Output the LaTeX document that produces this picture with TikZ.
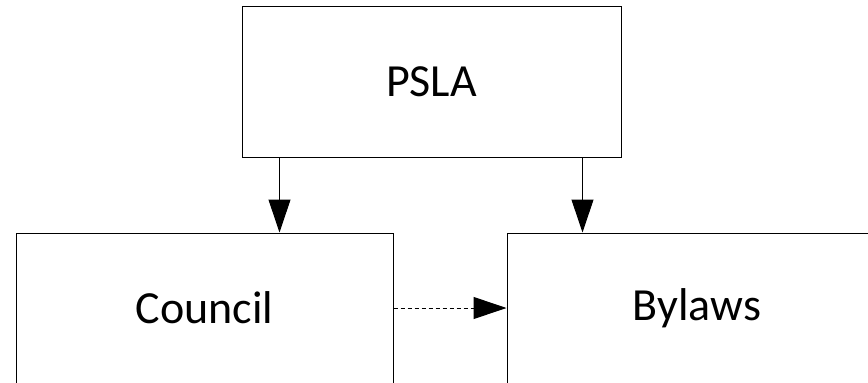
\documentclass[tikz,border=0pt]{standalone}
\usepackage{fontspec}
\setmainfont{Carlito}
\usetikzlibrary{arrows.meta}

\begin{document}
\begin{tikzpicture}[
            x=1pt, y=1pt,
            box/.style = {rectangle, draw, line width=1pt, minimum height=150pt, inner sep=0pt,
                          font=\fontsize{46}{54}\selectfont},
            link/.style = {line width=1pt, -{Triangle[length=33pt, width=22pt]}},
            ]
            \clip (0, 0) rectangle (868, -383);

            \node[box, minimum width=379pt, minimum height=151pt] (PSLA)    at (431.5, -81.5) {PSLA};
            \node[box, minimum width=377pt]                       (Council) at (204.5, -308) {Council};
            \node[box, minimum width=380pt]                       (Bylaws)  at (697, -308) {Bylaws};

            \draw[link] ([xshift=38pt]PSLA.south west) -- ([xshift=38pt]PSLA.south west |- Council.north);
            \draw[link] ([xshift=-39pt]PSLA.south east) -- ([xshift=-39pt]PSLA.south east |- Bylaws.north);
            \draw[link, dash pattern=on 4pt off 3pt] (Council.east) -- (Bylaws.west);

        \end{tikzpicture}
\end{document}
